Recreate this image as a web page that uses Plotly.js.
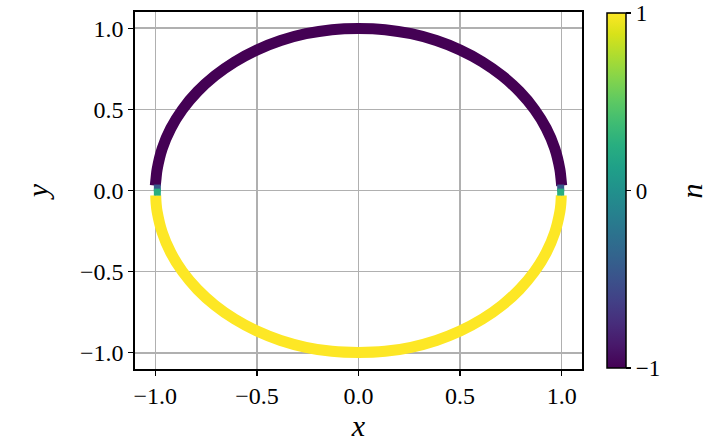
<!DOCTYPE html>
<html><head><meta charset="utf-8">
<script src="https://cdn.plot.ly/plotly-3.0.1.min.js"></script>
<style>html,body{margin:0;padding:0;background:#fff}#chart{width:717px;height:442px}</style>
</head><body><div id="chart"></div>
<script>
// upper half of the ring (n = -1)
var upperX = [1.000, 0.996, 0.991, 0.966, 0.924, 0.866, 0.793, 0.707, 0.609, 0.500, 0.383, 0.259, 0.131, 0.000, -0.131, -0.259, -0.383, -0.500, -0.609, -0.707, -0.793, -0.866, -0.924, -0.966, -0.991, -0.996, -1.000];
var upperY = [0.030, 0.080, 0.131, 0.259, 0.383, 0.500, 0.609, 0.707, 0.793, 0.866, 0.924, 0.966, 0.991, 0.998, 0.991, 0.966, 0.924, 0.866, 0.793, 0.707, 0.609, 0.500, 0.383, 0.259, 0.131, 0.080, 0.030];
// lower half of the ring (n = +1)
var lowerX = [0.998, 0.996, 0.991, 0.966, 0.924, 0.866, 0.793, 0.707, 0.609, 0.500, 0.383, 0.259, 0.131, 0.000, -0.131, -0.259, -0.383, -0.500, -0.609, -0.707, -0.793, -0.866, -0.924, -0.966, -0.991, -0.996, -0.998];
var lowerY = [-0.030, -0.080, -0.131, -0.259, -0.383, -0.500, -0.609, -0.707, -0.793, -0.866, -0.924, -0.966, -0.991, -0.998, -0.991, -0.966, -0.924, -0.866, -0.793, -0.707, -0.609, -0.500, -0.383, -0.259, -0.131, -0.080, -0.030];
// transition points near y = 0
var endX = [-0.990, -0.990, 0.995, 0.995];
var endY = [0.015, -0.010, 0.015, -0.010];
var endN = [-0.45, 0.25, -0.45, 0.25];
var nUpper = -1, nLower = 1;
var cbTicks = [-1, 0, 1];
var cbTickText = ['\u22121', '0', '1'];
var axTicks = [-1, -0.5, 0, 0.5, 1];
var axTickText = ['\u22121.0', '\u22120.5', '0.0', '0.5', '1.0'];

var viridisEnds = {'-1': '#440154', '1': '#fde725'};
var FONT = 'Liberation Serif';

var traces = [
  {x: upperX, y: upperY, mode: 'lines', line: {color: viridisEnds[String(nUpper)], width: 11, shape: 'spline'}, hoverinfo: 'skip', showlegend: false},
  {x: lowerX, y: lowerY, mode: 'lines', line: {color: viridisEnds[String(nLower)], width: 11, shape: 'spline'}, hoverinfo: 'skip', showlegend: false},
  {x: endX, y: endY, mode: 'markers', showlegend: false,
   marker: {symbol: 'square', size: 7, color: endN, colorscale: 'Viridis', cmin: -1, cmax: 1,
     showscale: true,
     colorbar: {x: 1.056, xanchor: 'left', y: 0.5, yanchor: 'middle', len: 355, lenmode: 'pixels',
       thickness: 19, thicknessmode: 'pixels', xpad: 0, ypad: 0,
       outlinecolor: '#000', outlinewidth: 1.5,
       tickmode: 'array', tickvals: cbTicks, ticktext: cbTickText,
       ticks: 'outside', ticklen: 5, tickwidth: 1.2, tickcolor: '#000',
       tickfont: {family: FONT, size: 23, color: '#000'}}}}
];

var axisCommon = {
  range: [-1.1, 1.1], tickmode: 'array', tickvals: axTicks, ticktext: axTickText,
  showgrid: true, gridcolor: '#b0b0b0', gridwidth: 1.6, zeroline: false,
  showline: true, linecolor: '#000', linewidth: 1.6, mirror: true,
  ticks: 'outside', ticklen: 5, tickwidth: 1.2, tickcolor: '#000',
  tickfont: {family: FONT, size: 24, color: '#000'}
};

var layout = {
  width: 717, height: 442,
  margin: {l: 135, r: 135, t: 12, b: 73},
  paper_bgcolor: '#fff', plot_bgcolor: '#fff',
  xaxis: Object.assign({}, axisCommon, {title: {text: '<i>x</i>', standoff: 16, font: {family: FONT, size: 30, color: '#000'}}}),
  yaxis: Object.assign({}, axisCommon, {title: {text: '<i>y</i>', standoff: 22, font: {family: FONT, size: 30, color: '#000'}}}),
  annotations: [{text: '<i>n</i>', xref: 'paper', yref: 'paper', x: 1.246, y: 0.5, xanchor: 'center', yanchor: 'middle',
    textangle: -90, showarrow: false, font: {family: FONT, size: 30, color: '#000'}}],
  font: {family: FONT, color: '#000'}
};

Plotly.newPlot('chart', traces, layout, {staticPlot: true, displayModeBar: false});
</script></body></html>
